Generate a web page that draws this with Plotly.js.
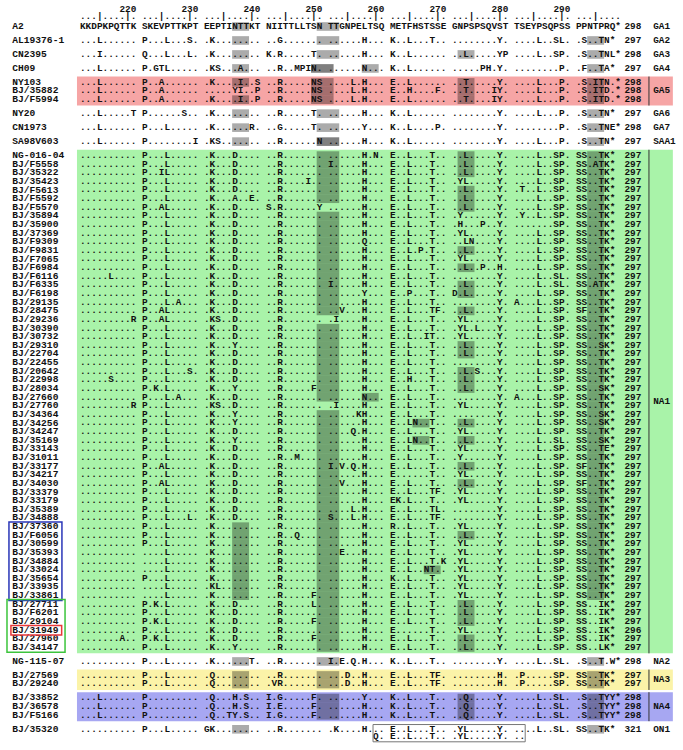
<!DOCTYPE html>
<html>
<head>
<meta charset="utf-8">
<script src="https://cdn.plot.ly/plotly-3.0.1.min.js"></script>
<style>
body { margin: 0; background: #fff; }
#chart { width: 683px; height: 750px; }
</style>
</head>
<body>
<div id="chart"></div>
<script>
// ---- data ----
// groups in display order: [label, number of rows]
const groupSizes = [['GA1', 1], ['GA2', 1], ['GA3', 1], ['GA4', 1], ['GA5', 3], ['GA6', 1],
    ['GA7', 1], ['SAA1', 1], ['NA1', 58], ['NA2', 1], ['NA3', 2], ['NA4', 3], ['ON1', 1]];

const names = ['A2', 'AL19376-1', 'CN2395', 'CH09', 'NY103', 'BJ/35882', 'BJ/F5994', 'NY20',
    'CN1973', 'SA98V603', 'NG-016-04', 'BJ/F5558', 'BJ/35322', 'BJ/35423', 'BJ/F5613',
    'BJ/F5592', 'BJ/F5570', 'BJ/35894', 'BJ/35900', 'BJ/37369', 'BJ/F9309', 'BJ/F9831',
    'BJ/F7065', 'BJ/F6984', 'BJ/F6116', 'BJ/F6335', 'BJ/F6198', 'BJ/29135', 'BJ/28475',
    'BJ/29236', 'BJ/30390', 'BJ/30732', 'BJ/29310', 'BJ/22704', 'BJ/22455', 'BJ/20642',
    'BJ/22998', 'BJ/28034', 'BJ/27660', 'BJ/27760', 'BJ/34364', 'BJ/34256', 'BJ/34247',
    'BJ/35169', 'BJ/33143', 'BJ/31011', 'BJ/33177', 'BJ/34217', 'BJ/34030', 'BJ/33379',
    'BJ/33179', 'BJ/35389', 'BJ/34888', 'BJ/37360', 'BJ/F6056', 'BJ/30599', 'BJ/35393',
    'BJ/34884', 'BJ/33024', 'BJ/35654', 'BJ/33935', 'BJ/33861', 'BJ/27711', 'BJ/F6201',
    'BJ/29104', 'BJ/31949', 'BJ/27960', 'BJ/34147', 'NG-115-07', 'BJ/27569', 'BJ/29240',
    'BJ/33852', 'BJ/36578', 'BJ/F5166', 'BJ/35320'];

// aligned residues 212..298, blocks of ten
const seqs = [
    'KKDPKPQTTK SKEVPTTKPT EEPTINTTKT NIITTLLTSN TTGNPELTSQ METFHSTSSE GNPSPSQVST TSEYPSQPSS PPNTPRQ*',
    '...L...... P...L...S. .K........ ..G....... ......H... K..L...T.. ........Y. ....L..SL. .S..TN*',
    '...I...... Q...L...L. .K........ K.R.....T. ......H... K..L...... ..L.....YP ....L..SP. .S..TNL*',
    '...L...... P.GTL..... .KS...A... ..R..MPIN. ......N... K..L...... .....PH.Y. ........P. .F..TA*',
    '...L...... P..A...... .K....I..S ..R.....NS ....L.H... E..L...... ..T.....Y. ....L...P. .S.ITN.*',
    '...L...... P..A...... .....YI..P ..R.....NS ....L.H... E..H....F. ..T....IY. ....L...P. .S.ITD.*',
    '...L...... P..A...... .K....I..P ..R.....NS ....L.H... E..L...... ..T....IY. ....L...P. .S.ITD.*',
    '...L.....T P......S.. .K........ ..R.....T. ......H... K..L...... ........Y. ....L...P. .S..TN*',
    '...L...... P...L..... .K......R. ..G.....T. ......Y... K..L....P. ........Y. ........P. .S..TNE*',
    '...L...... P........I .KS....... ..R......N ......H... K..L...... ........Y. ....L...P. .S..TN*',
    '.......... P...L..... .K...D.... ..R....... ......H.N. E..L...T.. ..L.....Y. ....L..SP. SS..TK*',
    '.......... P...L..... .K...D.... ..R....... I.....H... E..L...T.. ..L.....Y. ....L..SP. SS.ATK*',
    '.......... P..IL..... .K...D.... ..R....... ......H... E..L...T.. ..L.....Y. ....L..SP. SS..TK*',
    '.......... P...L..... .K...D.... ..R....I.. ......H... E..L...T.. .YL.....Y. ....L..SP. SS..TK*',
    '.......... P...L..... .K...D.... ..R....... ......H... E..L...T.. ..L.....Y. .T..L..SP. SS..TK*',
    '.......... P...L..... .K...A..E. ..R....... ......H... E..L...T.. ..L.....Y. ....L..SP. SS..TK*',
    '.......... P..AL..... .K...D.... S.R......Y ......H... E..L...T.. ..L.....Y. ....L..SP. SS..TK*',
    '.......... P...L..... .K...D.... ..R....... ......H... E..L...T.. .Y......Y. .Y..L..SP. SS..TK*',
    '.......... P...L..... .K...D.... ..R....... ......H... E..L...T.. .H...P..Y. .......SP. SS..TK*',
    '.......... P...L..... .K...D.... ..R....... ......H... E..L...T.. .YL.....Y. ....L..SP. SS..TK*',
    '.......... P...L..... .K...D.... ..R....... ......Q... E..L...T.. ..LN....Y. ....L..SP. SS..TK*',
    '.......... P...L..... .K...D.... ..R....... ......H... E..L.P.T.. ..L.....Y. ....L..SP. SS..TK*',
    '.......... P...L..... .K...D.... ..R....... ......H... E..L...T.. .YL.....Y. ....L..SP. SS..TK*',
    '.......... P...L..... .K...D.... ..R....... ......H... E..L...T.. ..L..P..H. ....L..SP. SS..TK*',
    '.....L.... P...L..... .K...D.... ..R....... ......H... E..L...T.. ........Y. ....L..SL. SS..TK*',
    '.......... P...L..... .K...D.... ..R....... I.....H... E..L...T.. ..L.....Y. ....L..SL. SS.ATK*',
    '.......... P...L..... .K...D.... ..R....... ......Y... E..P...T.. D.L.....Y. ....L..SP. SS..TK*',
    '.......... P...L.A... .K...D.... ..R....... ......H... E..L...T.. ........Y. A...L..SP. SS..TK*',
    '.......... P..AL..... .K...D.... ..R....... ..V...H... E..L...TF. ..L.....Y. ....L..SP. SF..TK*',
    '.........R P..AL..... .KS..D.... ..R....... .I....H... E..L...T.. .YL.....Y. ....L..SP. SS..TK*',
    '.......... P...L..... .K...D.... ..R....... ......H... E..L...T.. .YL.L...Y. ....L..SP. SS..TK*',
    '.......... P...L..... .K...D.... ..R....... ......H... E..L..IT.. .YL.....Y. ....L..SP. SS..TK*',
    '.......... P...L..... .K...Y.... ..R....... ......H... E..L...T.. ..L.....Y. ....L..SP. SS..SK*',
    '.......... P...L..... .K...D.... ..R....... ......H... E..L...T.. ..L.....Y. ....L..SP. SS..TK*',
    '.......... P...L..... .K...D.... ..R....... ......H... E..L...T.. ........Y. ....L..SP. SS..TK*',
    '.......... P...L...S. .K...D.... ..R....... ......H... E..L...T.. ..L.S...Y. ....L..SP. SS..TK*',
    '.....S.... P...L..... .K...D.... ..R....... ......H... E..H...T.. ..L.....Y. ....L..SP. SS..TK*',
    '.......... P.K.L..... .K...Y.... ..R.....F. ......H... E..L...T.. ..L.....Y. ....L..SP. SS..SK*',
    '.......... P...L.A... .K...D.... ..R....... ......N... E..L...T.. ........Y. A...L..SP. SS..TK*',
    '.........R P...L..... .KS..D.... ..R....... .I....H... E..L...T.. .YL.....Y. ....L..SP. SS..TK*',
    '.......... P...L..... .K...Y.... ..R....... .....KH... E..L...T.. ........Y. ....L..SP. SS..SK*',
    '.......... P...L..... .K...Y.... ..R....... ......H... E..LN..T.. ..L.....Y. ....L..SP. SS..SK*',
    '.......... P...L..... .K...D.... ..R....... ....Q.H... E..L...T.. .YL.....Y. ....L..SP. SS..TK*',
    '.......... P...L..... .K...Y.... ..R....... ......H... E..LN..T.. ..L.....Y. ....L..SL. SS..SK*',
    '.......... P...L..... .K...D.... ..R....... ......H... E..L...T.. .YL.....Y. ....L..SP. SS..TE*',
    '.......... P...L..... .K...D.... ..R..M.... ......H... E..L...T.. .Y......Y. ....L..SP. SS..TK*',
    '.......... P..AL..... .K...D.... ..R....... I.V.Q.H... E..L...T.. ..L.....Y. ....L..SP. SF..TK*',
    '.......... P...L..... .K...D.... ..R....... ......H... E......T.. .YL.....Y. ....L..SP. SS..TK*',
    '.......... P..AL..... .K...D.... ..R....... ..V...H... E..L...T.. ..L.....Y. ....L..SP. SF..TK*',
    '.......... P...L..... .K...D.... ..R....... ......H... E..L...TF. .YL.....Y. ....L..SP. SS..TK*',
    '.......... P...L..... .K...D.... ..R....... ......H... EK.L...T.. .YL.....Y. ....L..SP. SS..TK*',
    '.......... P...L..... .K...D.... ..R....... ....L.H... E..L...TL. ........Y. ....L..SP. SS..TK*',
    '.......... P...L...L. .K...D.... ..R....... S...L.H... E..L...TF. ........Y. ....L..SP. SS..TK*',
    '.......... P...L..... .K........ ..R....... ......H... R..L...T.. .YL.....Y. ....L..SP. SS..TK*',
    '.......... P...L..... .K........ ..R..Q.... ......H... E..L...T.. ..L.....Y. ....L..SP. SS..TK*',
    '.......... P...L..... .K........ ..R....... ......H... E..L...T.. .YL.....Y. ....L..SP. SS..TK*',
    '.......... ....L..... .K........ ..R....... ..E...H... E..L...T.. .YL.....Y. ....L..SP. SS..TK*',
    '.......... ....L..... .K........ ..R....... ......H... E..L...T.K .YL.....Y. ....L..SP. SS..TK*',
    '.......... ....L..... .K........ ..R....... ......H... E..L..NT.. .YL.....Y. ....L..SP. SS..TK*',
    '.......... P...L..... .K........ ..R....... ......H... K..L...T.. .YL.....Y. ....L..SP. SS..TK*',
    '.......... ....L..... .KL....... ..R....... ......H... E..L...T.. .YL.....Y. ....L..SP. SS..TK*',
    '.......... ....L..... .K........ ..R.....F. ......H... E..L...T.. .YL.....Y. ....L..SP. SS..TK*',
    '.......... P.K.L..... .K...D.... ..R.....L. ......H... E..L...T.. ..L.....Y. ....L..SP. SS..IK*',
    '.......... P...L..... .K...D.... ..R....... ......H... E..L...T.. ..L.....Y. ....L..SP. SS..IK*',
    '.......... P.K.L..... .K...D.... ..R.....F. ......H... E..L...T.. ..L.....Y. ....L..SP. SS..IK*',
    '.......... P...L..... .K...D.... ..R....... ......H... E......T.. .YL.....Y. ....L..SP. SS..IK*',
    '.......A.. P.K.L..... .K...D.... ..R.....F. ......H... E..L...T.. ..L.....Y. ....L..SP. SS..IK*',
    '.......... P...L..... .K...Y.... ..R....... ......H... E..L...T.. ..L.....Y. ....L..SP. SS..LK*',
    '.......... P...L..... .K......T. ..R....... I.E.Q.H... K..L...T.. ........Y. ....L..SL. .S..T.W*',
    '.......... P...L..... .Q........ ..R....... ...D..H... E..L...TF. ........H. .P.....SP. SS..TK*',
    '.......... P...L..... .Q........ .VR....... ...D..H... E..L...TF. ........H. .P.....SP. SS..TK*',
    '...L...... P......... .Q...H.S.. I.G.....F. ......Y... K..L...T.. ..Q.....Y. ....L..SL. .S..TYY*',
    '...L...... P......... .Q...H.S.. I.E.....F. ......H... K..L...T.. ..Q.....Y. ....L..SL. .S..TYY*',
    '...L...... P......... .Q..TY.S.. I.G.....F. ......H... K..L...T.. ..Q.....Y. ....L..SL. .S..TYY*',
    '.......... P...L..... GK........ ..R....... .K....H... E..L...T.. .YL.....Y. ....L..SL. SS..TK*'
];

const lengths = [298, 297, 298, 297, 298, 298, 298, 297, 298, 297,
    297, 297, 297, 297, 297, 297, 297, 297, 297, 297, 297, 297, 297, 297, 297,
    297, 297, 297, 297, 297, 297, 297, 297, 297, 297, 297, 297, 297, 297, 297,
    297, 297, 297, 297, 297, 297, 297, 297, 297, 297, 297, 297, 297, 297, 297,
    297, 297, 297, 297, 297, 297, 297, 297, 297, 297, 296, 297, 297,
    298, 297, 297, 298, 298, 298, 321];

// first residue of each shaded glycosylation motif, per row
const sites = [
    [237, 251], [237, 251, 294], [237, 251, 273, 294], [237, 250, 258, 294],
    [237, 250, 273, 294], [250, 273, 294], [237, 250, 273, 294],
    [237, 251, 294], [237, 251, 294], [237, 251, 294],
    [251, 273, 294], [251, 273, 294], [251, 273, 294], [251, 294], [251, 273, 294],
    [251, 273, 294], [273, 294], [251, 294], [251, 294], [251, 294],
    [251, 294], [251, 273, 294], [251, 294], [251, 273, 294], [251, 294],
    [251, 273, 294], [251, 273, 294], [251, 294], [251, 273, 294], [294],
    [251, 294], [251, 294], [251, 273, 294], [251, 273, 294], [251, 294],
    [251, 273, 294], [251, 273, 294], [251, 273, 294], [251, 258, 294], [294],
    [251, 294], [251, 266, 273, 294], [251, 294], [251, 266, 273, 294], [251, 294],
    [251, 294], [251, 273, 294], [251, 294], [251, 273, 294], [251, 294],
    [251, 294], [251, 294], [251, 294], [237, 251, 294], [237, 251, 273, 294],
    [237, 251, 294], [237, 251, 294], [237, 251, 294], [237, 251, 268, 294], [237, 251, 294],
    [237, 251, 294], [237, 251, 294], [251, 273], [251, 273], [251, 273],
    [251], [251, 273], [251, 273],
    [237, 251, 294], [237, 251, 294], [237, 251, 294],
    [251, 273, 294], [251, 273, 294], [251, 273, 294], [237, 294]
];
const darkSites = [['CH09', 250], ['SA98V603', 251]];

// ON1 duplicated segment, drawn on an extra line under BJ/35320
const dupStart = 260;
const dupSeq = 'Q.E..L...T...YL.....Y...';

const rulerTicks = [220, 230, 240, 250, 260, 270, 280, 290];
const firstPos = 212, lastPos = 299;

const nameBoxes = [
    {from: 'BJ/37360', to: 'BJ/33861', color: '#2a36b8', x0: -13.1, x1: -3.7},
    {from: 'BJ/27711', to: 'BJ/34147', color: '#3cc43c', x0: -13.45, x1: -3.15},
    {from: 'BJ/31949', to: 'BJ/31949', color: '#e8383a', x0: -12.75, x1: -3.75}
];

// ---- style ----
const bandColors = {GA5: '#f6a5a5', NA1: '#a9f3a9', NA3: '#fbf3a8', NA4: '#a7a7f2'};
const shadeFill = 'rgba(0,0,0,0.33)';
const darkFill = 'rgba(0,0,0,0.5)';
const monoFont = 'Liberation Mono, DejaVu Sans Mono, monospace';
const groupStep = 1.62;

// ---- layout helpers ----
function slotOf(pos) {
    const k = pos - firstPos;
    return k + Math.floor(k / 10);
}

const rowGroup = [];
groupSizes.forEach(function (g) {
    for (let i = 0; i < g[1]; i++) rowGroup.push(g[0]);
});
const rowY = [];
let yCur = 0;
rowGroup.forEach(function (g, i) {
    if (i > 0) yCur += (g === rowGroup[i - 1]) ? 1 : groupStep;
    rowY.push(yCur);
});
const dupY = rowY[rowY.length - 1] + 0.9;

function rowOf(name) { return names.indexOf(name); }

// ---- residues ----
const cx = [], cy = [], ct = [];
seqs.forEach(function (s, i) {
    s.split(' ').forEach(function (block, b) {
        for (let k = 0; k < block.length; k++) {
            cx.push(b * 11 + k);
            cy.push(rowY[i]);
            ct.push(block[k]);
        }
    });
});
for (let k = 0; k < dupSeq.length; k++) {
    cx.push(slotOf(dupStart + k));
    cy.push(dupY);
    ct.push(dupSeq[k]);
}

// ruler
const rx = [], ry = [], rt = [];
for (let p = firstPos; p <= lastPos; p++) {
    rx.push(slotOf(p)); ry.push(-1.16); rt.push(p % 5 === 0 ? '|' : '.');
}

// group labels
const gx = [], gy = [], gt = [];
let start = 0;
groupSizes.forEach(function (g) {
    const ys = rowY.slice(start, start + g[1]);
    gx.push(101.2);
    gy.push((ys[0] + ys[ys.length - 1]) / 2);
    gt.push(g[0]);
    start += g[1];
});

const textFont = {family: monoFont, size: 9.4, color: '#111', weight: 'bold'};
const nameFont = {family: monoFont, size: 9.6, color: '#111', weight: 'bold'};

const traces = [
    {type: 'scatter', mode: 'text', x: cx, y: cy, text: ct, textposition: 'middle center',
        textfont: textFont, hoverinfo: 'skip'},
    {type: 'scatter', mode: 'text', x: rx, y: ry, text: rt, textposition: 'middle center',
        textfont: textFont, hoverinfo: 'skip'},
    {type: 'scatter', mode: 'text', x: rulerTicks.map(slotOf), y: rulerTicks.map(function () { return -1.97; }),
        text: rulerTicks.map(String), textposition: 'middle center', textfont: textFont, hoverinfo: 'skip'},
    {type: 'scatter', mode: 'text', x: names.map(function () { return -12.5; }), y: rowY, text: names,
        textposition: 'middle right', textfont: nameFont, hoverinfo: 'skip'},
    {type: 'scatter', mode: 'text', x: lengths.map(function () { return 96.1; }), y: rowY,
        text: lengths.map(String), textposition: 'middle right', textfont: textFont, hoverinfo: 'skip'},
    {type: 'scatter', mode: 'text', x: gx, y: gy, text: gt, textposition: 'middle right',
        textfont: textFont, hoverinfo: 'skip'}
];

// ---- shapes ----
const shapes = [];
start = 0;
groupSizes.forEach(function (g) {
    const y0 = rowY[start] - 0.68, y1 = rowY[start + g[1] - 1] + 0.68;
    if (bandColors[g[0]]) {
        shapes.push({type: 'rect', layer: 'below', xref: 'x', yref: 'y', x0: -1.03, x1: 104.7,
            y0: y0, y1: y1, fillcolor: bandColors[g[0]], line: {width: 0}});
        shapes.push({type: 'line', layer: 'above', xref: 'x', yref: 'y', x0: 100.46, x1: 100.46,
            y0: y0, y1: y1, line: {color: '#333', width: 1}});
    }
    start += g[1];
});

sites.forEach(function (list, i) {
    list.forEach(function (p) {
        const dark = darkSites.some(function (d) { return d[0] === names[i] && d[1] === p; });
        shapes.push({type: 'rect', layer: 'below', xref: 'x', yref: 'y',
            x0: slotOf(p) - 0.5, x1: slotOf(p + 2) + 0.5, y0: rowY[i] - 0.5, y1: rowY[i] + 0.5,
            fillcolor: dark ? darkFill : shadeFill, line: {width: 0}});
    });
});

const on1 = rowY.length - 1;
shapes.push({type: 'rect', layer: 'above', xref: 'x', yref: 'y',
    x0: slotOf(dupStart) - 0.5, x1: slotOf(dupStart + dupSeq.length - 1) + 0.5,
    y0: rowY[on1] - 0.55, y1: dupY + 0.55, line: {color: '#777', width: 1}, fillcolor: 'rgba(0,0,0,0)'});

nameBoxes.forEach(function (b) {
    shapes.push({type: 'rect', layer: 'above', xref: 'x', yref: 'y', x0: b.x0, x1: b.x1,
        y0: rowY[rowOf(b.from)] - 0.55, y1: rowY[rowOf(b.to)] + 0.55,
        line: {color: b.color, width: 1.5}, fillcolor: 'rgba(0,0,0,0)'});
});

const layout = {
    width: 683, height: 750,
    margin: {l: 0, r: 0, t: 0, b: 0},
    paper_bgcolor: '#fff', plot_bgcolor: '#fff',
    showlegend: false, hovermode: false,
    xaxis: {range: [-14.69, 106.5], visible: false, fixedrange: true},
    yaxis: {range: [83.84, -3.07], visible: false, fixedrange: true},
    shapes: shapes
};

Plotly.newPlot('chart', traces, layout, {displayModeBar: false, staticPlot: true});
</script>
</body>
</html>
